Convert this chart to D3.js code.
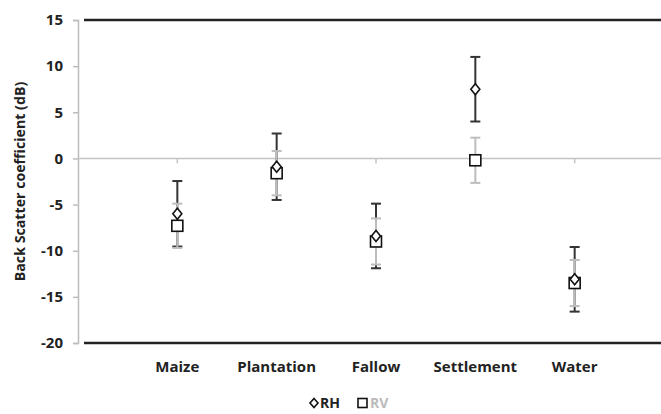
<!DOCTYPE html>
<html>
<head>
<meta charset="utf-8">
<script src="https://cdn.jsdelivr.net/npm/d3@7"></script>
<style>
  body { margin: 0; background: #fff; }
  text { font-family: "Open Sans", "Noto Sans", sans-serif; font-weight: bold; }
</style>
</head>
<body>
<div id="chart"></div>
<script>
// データ
const categories = ["Maize", "Plantation", "Fallow", "Settlement", "Water"];
const rhValues = [-6.0, -0.9, -8.4, 7.5, -13.1];
const rhErrors = [3.55, 3.6, 3.5, 3.5, 3.5];
const rvValues = [-7.3, -1.6, -9.0, -0.2, -13.5];
const rvErrors = [2.4, 2.4, 2.5, 2.45, 2.5];
const yTicks = [15, 10, 5, 0, -5, -10, -15, -20];

const width = 661;
const height = 414;

const svg = d3.select("#chart")
  .append("svg")
  .attr("width", width)
  .attr("height", height);

// スケール (x は 0..6 の散布図軸、右側は切れている)
const xScale = d3.scaleLinear().domain([0, 6]).range([78, 674]);
const yScale = d3.scaleLinear().domain([-20, 15]).range([343, 20]);

// y軸
const yAxis = svg.append("g")
  .attr("transform", "translate(78,0)")
  .call(d3.axisLeft(yScale).tickValues(yTicks).tickSize(5).tickPadding(10).tickFormat(d => String(d)));
yAxis.select(".domain").attr("stroke", "#bdbdbd").attr("stroke-width", 1.5);
yAxis.selectAll(".tick line").attr("stroke", "#bdbdbd").attr("stroke-width", 1.5);
yAxis.selectAll(".tick text").attr("font-size", 15).attr("fill", "#222");

// ゼロ線と目盛り
svg.append("line")
  .attr("x1", 78).attr("x2", width)
  .attr("y1", yScale(0)).attr("y2", yScale(0))
  .attr("stroke", "#c4c4c4").attr("stroke-width", 1.5);
svg.selectAll(".xtick")
  .data(categories)
  .join("line")
  .attr("class", "xtick")
  .attr("x1", (d, i) => xScale(i + 1)).attr("x2", (d, i) => xScale(i + 1))
  .attr("y1", yScale(0)).attr("y2", yScale(0) + 5)
  .attr("stroke", "#c4c4c4").attr("stroke-width", 1.5);

// 上下の黒線
[15, -20].forEach(v => {
  svg.append("line")
    .attr("x1", 84).attr("x2", width)
    .attr("y1", yScale(v)).attr("y2", yScale(v))
    .attr("stroke", "#222").attr("stroke-width", 2.5);
});

// カテゴリラベル
svg.selectAll(".xlabel")
  .data(categories)
  .join("text")
  .attr("class", "xlabel")
  .attr("x", (d, i) => xScale(i + 1))
  .attr("y", 372)
  .attr("text-anchor", "middle")
  .attr("font-size", 15)
  .attr("fill", "#222")
  .text(d => d);

// y軸タイトル
svg.append("text")
  .attr("transform", `translate(25,${(20 + 343) / 2}) rotate(-90)`)
  .attr("text-anchor", "middle")
  .attr("font-size", 14.2)
  .attr("fill", "#222")
  .text("Back Scatter coefficient (dB)");

// エラーバー描画関数
function drawErrors(values, errors, color) {
  const g = svg.append("g").attr("stroke", color).attr("stroke-width", 2).attr("fill", "none");
  values.forEach((v, i) => {
    const x = xScale(i + 1);
    const top = yScale(v + errors[i]);
    const bot = yScale(v - errors[i]);
    g.append("line").attr("x1", x).attr("x2", x).attr("y1", top).attr("y2", bot);
    g.append("line").attr("x1", x - 5).attr("x2", x + 5).attr("y1", top).attr("y2", top);
    g.append("line").attr("x1", x - 5).attr("x2", x + 5).attr("y1", bot).attr("y2", bot);
  });
}

drawErrors(rhValues, rhErrors, "#333");
drawErrors(rvValues, rvErrors, "#bdbdbd");

// マーカー
const diamond = "M0,-5.5L4.5,0L0,5.5L-4.5,0Z";
svg.selectAll(".rv")
  .data(rvValues)
  .join("rect")
  .attr("class", "rv")
  .attr("x", (d, i) => xScale(i + 1) - 5.5)
  .attr("y", d => yScale(d) - 5.5)
  .attr("width", 11).attr("height", 11)
  .attr("fill", "#fff").attr("stroke", "#111").attr("stroke-width", 1.6);
svg.selectAll(".rh")
  .data(rhValues)
  .join("path")
  .attr("class", "rh")
  .attr("d", diamond)
  .attr("transform", (d, i) => `translate(${xScale(i + 1)},${yScale(d)})`)
  .attr("fill", "#fff").attr("stroke", "#111").attr("stroke-width", 1.6);

// 凡例
const legend = svg.append("g").attr("transform", "translate(314,403)");
legend.append("path").attr("d", "M0,-4.5L4,0L0,4.5L-4,0Z")
  .attr("fill", "#fff").attr("stroke", "#111").attr("stroke-width", 1.6);
legend.append("text").attr("x", 6).attr("y", 5).attr("font-size", 14).attr("fill", "#222").text("RH");
legend.append("rect").attr("x", 44).attr("y", -4.5).attr("width", 9).attr("height", 9)
  .attr("fill", "#fff").attr("stroke", "#111").attr("stroke-width", 1.6);
legend.append("text").attr("x", 56).attr("y", 5).attr("font-size", 14).attr("fill", "#bbb").text("RV");
</script>
</body>
</html>
